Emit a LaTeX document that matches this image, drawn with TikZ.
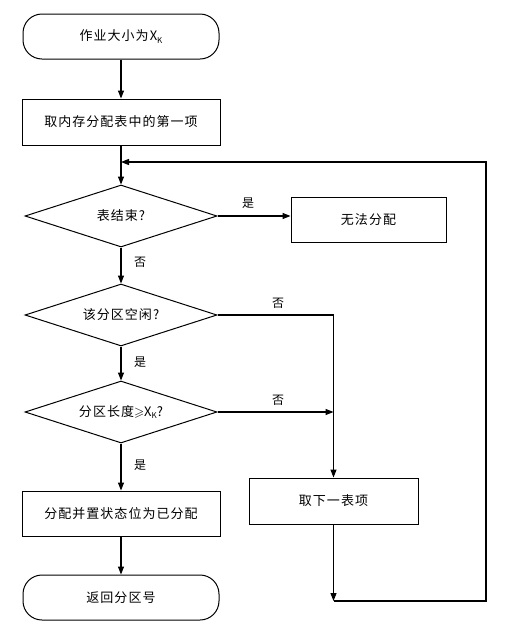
\documentclass[tikz,border=0pt]{standalone}
\usepackage{amssymb}
\usepackage{fontspec}
\setmainfont{Liberation Serif}
\newfontfamily\cjk[LetterSpace=8]{Noto Sans CJK SC}
\usetikzlibrary{shapes.geometric,arrows.meta}
\tikzset{
  base/.style={draw, line width=1pt, inner sep=0pt, font=\cjk\fontsize{13}{15}\selectfont},
  term/.style={base, rectangle, rounded corners=19pt},
  proc/.style={base, rectangle},
  dec/.style={base, diamond, aspect=3.1, minimum width=192pt, minimum height=62pt},
  conn/.style={line width=1.1pt, -{Triangle[length=8pt,width=6pt]}},
  plain/.style={line width=1.1pt},
  lab/.style={font=\cjk\fontsize{12}{14}\selectfont, inner sep=0pt}
}
\newcommand{\xk}{X\raisebox{-0.35ex}{\fontsize{8}{9}\selectfont K}}
\begin{document}
\begin{tikzpicture}[x=1pt,y=-1pt]
\useasboundingbox (0,0) rectangle (509,630);
\node[term, minimum width=196pt, minimum height=45pt] (start) at (121,36.5) {作业大小为\xk};
\node[proc, minimum width=198pt, minimum height=46pt] (first) at (121,122) {取内存分配表中的第一项};
\coordinate (m) at (121,162);
\node[dec] (d1) at (121,216) {表结束?};
\node[proc, minimum width=155pt, minimum height=45pt] (fail) at (368.5,219.5) {无法分配};
\node[dec] (d2) at (121,315) {该分区空闲?};
\node[dec] (d3) at (121,412) {分区长度$\geqslant$\xk?};
\node[proc, minimum width=198pt, minimum height=45pt] (alloc) at (121,513.5) {分配并置状态位为已分配};
\node[term, minimum width=196pt, minimum height=45pt] (ret) at (121,597.5) {返回分区号};
\node[proc, minimum width=169pt, minimum height=46pt] (next) at (333.5,501) {取下一表项};
\coordinate (c1) at (333.5,315);
\coordinate (j) at (333.5,412);
\coordinate (b) at (333.5,601);
\coordinate (br) at (486,601);
\coordinate (tr) at (486,162);

\draw[conn] (start) -- (first);
\draw[plain] (first) -- (m);
\draw[conn] (m) -- (d1);
\draw[conn] (d1.east) -- (fail.west |- d1.east);
\draw[conn] (d1) -- (d2);
\draw[plain] (d2.east) -- (c1);
\draw[conn] (c1) -- (next);
\draw[conn] (d2) -- (d3);
\draw[conn] (d3.east) -- (j);
\draw[conn] (d3) -- (alloc);
\draw[conn] (alloc) -- (ret);
\draw[conn] (next) -- (b);
\draw[conn] (b) -- (br) -- (tr) -- (m);

\node[lab] (l1) at (248,203) {是};
\node[lab] (l2) at (140,262) {否};
\node[lab] (l3) at (278,303) {否};
\node[lab] (l4) at (140,362) {是};
\node[lab] (l5) at (278,400) {否};
\node[lab] (l6) at (140,465) {是};
\end{tikzpicture}
\end{document}
